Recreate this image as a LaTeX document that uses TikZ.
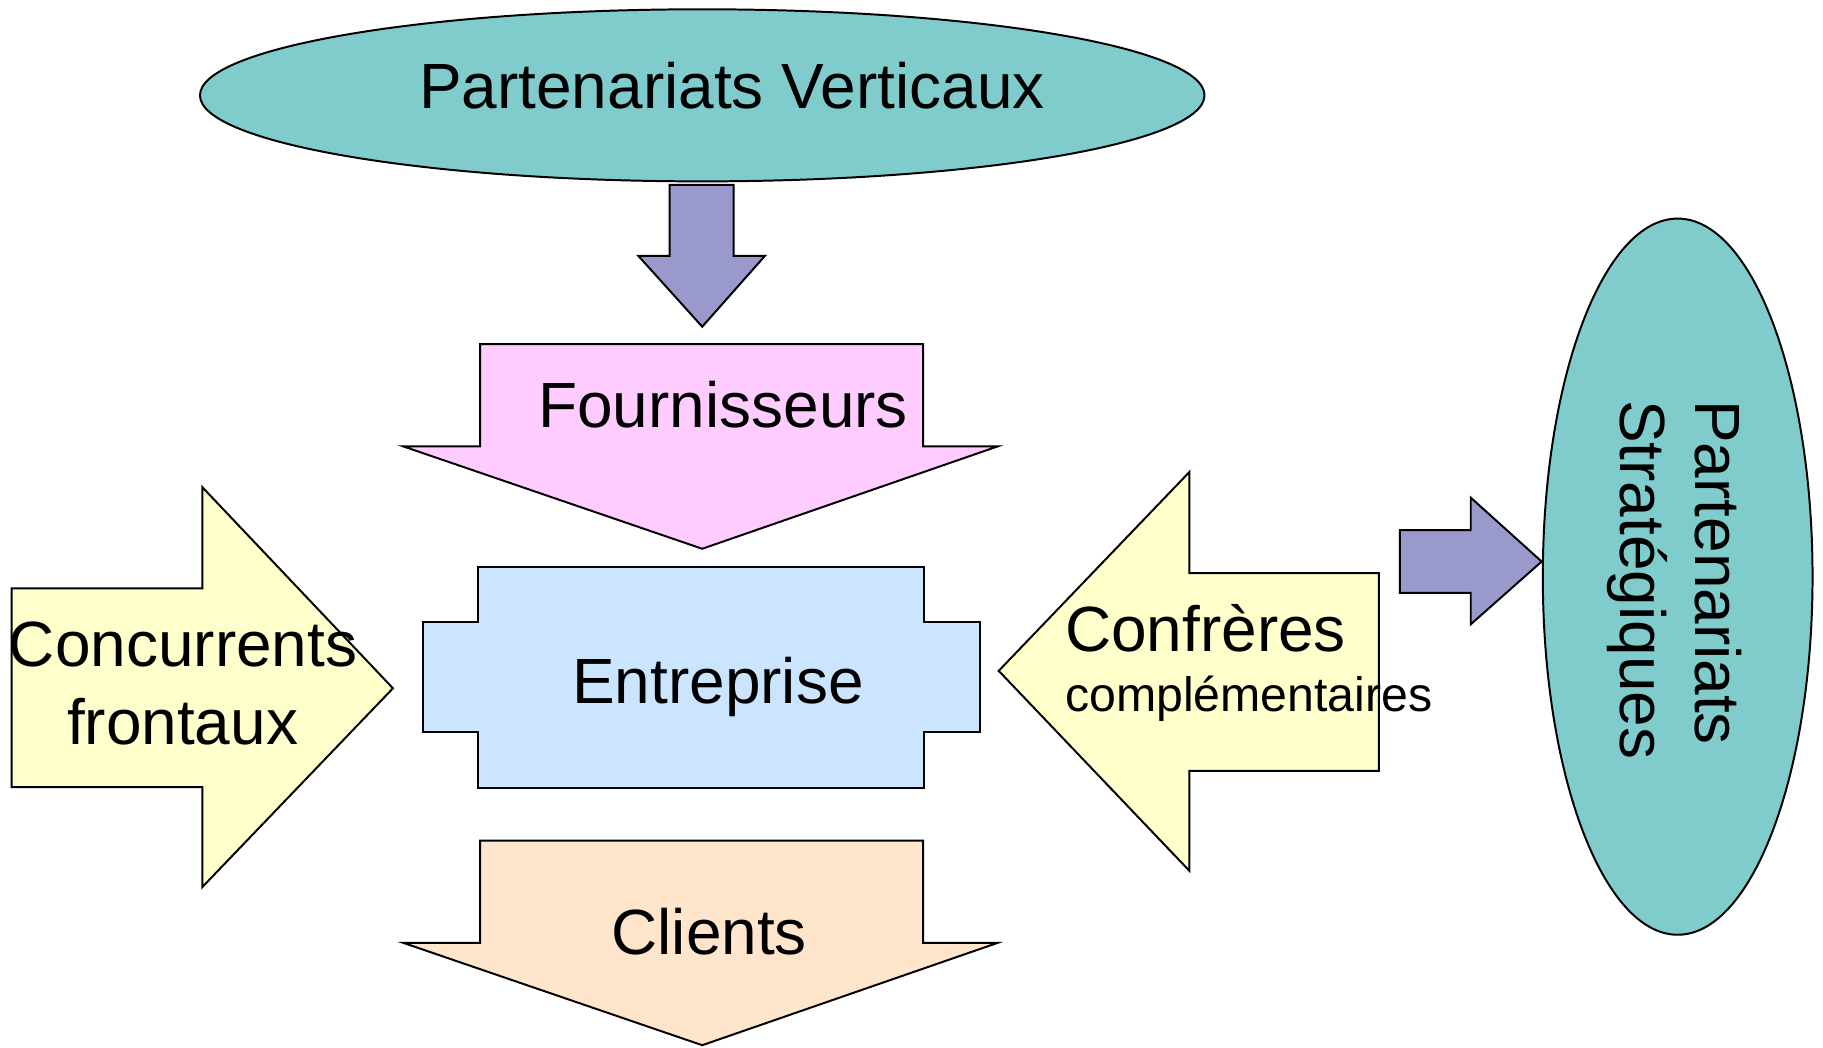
\documentclass[tikz,border=0pt]{standalone}
\usepackage{fontspec}
\setmainfont{Liberation Sans}
\usepackage{tikz}
\usetikzlibrary{calc}
\definecolor{tealfill}{HTML}{80CCCC}
\definecolor{lilacfill}{HTML}{9999CC}
\definecolor{pinkfill}{HTML}{FFCCFF}
\definecolor{bluefill}{HTML}{CCE5FF}
\definecolor{yellowfill}{HTML}{FFFFCC}
\definecolor{peachfill}{HTML}{FFE5CC}
\tikzset{
	outl/.style={draw=black, line width=1.7pt, line join=miter},
	lbl/.style={font=\fontsize{55}{66}\selectfont, inner sep=0pt},
	lblsmall/.style={font=\fontsize{41.5}{48}\selectfont, inner sep=0pt}
}
\def\bigdownarrow[#1](#2,#3){\draw[#1] (#2-191,#3) -- (#2+190,#3) -- (#2+190,#3+88) -- (#2+254,#3+88) -- (#2,#3+176) -- (#2-257,#3+88) -- (#2-191,#3+88) -- cycle;}

\begin{document}
\begin{tikzpicture}[x=1pt, y=-1pt]
			%%%%% START %%%%%
			\useasboundingbox (0,0) rectangle (1568,901);
			
			% top ellipse
			\draw[outl, fill=tealfill] (604,82) ellipse [x radius=432pt, y radius=74pt];
			\node[lbl, anchor=base] (vert) at (629.5,93) {Partenariats Verticaux};
			
			\draw[outl, fill=lilacfill] (576,159) -- (631,159) -- (631,220) -- (658,220) -- (604,281) -- (549,220) -- (576,220) -- cycle;
			
			% supplier / client arrows
			\bigdownarrow[outl, fill=pinkfill](604,296)
			\node[lbl, anchor=base] (fourn) at (622,368) {Fournisseurs};
			
			\bigdownarrow[outl, fill=peachfill](604,723)
			\node[lbl, anchor=base] (clients) at (610,821) {Clients};
			
			% company
			\draw[outl, fill=bluefill] (411,488) -- (795,488) -- (795,535) -- (843,535) -- (843,630) -- (795,630) -- (795,678) -- (411,678) -- (411,630) -- (364,630) -- (364,535) -- (411,535) -- cycle;
			\node[lbl, anchor=base] (entr) at (617.5,605) {Entreprise};
			
			% left arrow
			\draw[outl, fill=yellowfill] (10,506) -- (174,506) -- (174,419) -- (338,592) -- (174,763) -- (174,677) -- (10,677) -- cycle;
			\node[lbl, anchor=base] (conc) at (157.5,573.5) {Concurrents};
			\node[lbl, anchor=base] (front) at (157,640.5) {frontaux};
			
			% right arrow
			\draw[outl, fill=yellowfill] (1186,493) -- (1023,493) -- (1023,406) -- (859,577) -- (1023,749) -- (1023,663) -- (1186,663) -- cycle;
			\node[lbl, anchor=base west] (confr) at (916,560) {Confrères};
			\node[lblsmall, anchor=base west] (compl) at (916,612) {complémentaires};
			
			\draw[outl, fill=lilacfill] (1204,456) -- (1265,456) -- (1265,428) -- (1326,483) -- (1265,537) -- (1265,510) -- (1204,510) -- cycle;
			
			% right ellipse
			\draw[outl, fill=tealfill] (1443,496) ellipse [x radius=116pt, y radius=308pt];
			\node[lbl, rotate=-90, anchor=base west] (part) at (1458,344) {Partenariats};
			\node[lbl, rotate=-90, anchor=base west] (strat) at (1394,344) {Stratégiques};
			
			%%%%% END %%%%%
\end{tikzpicture}
\end{document}
